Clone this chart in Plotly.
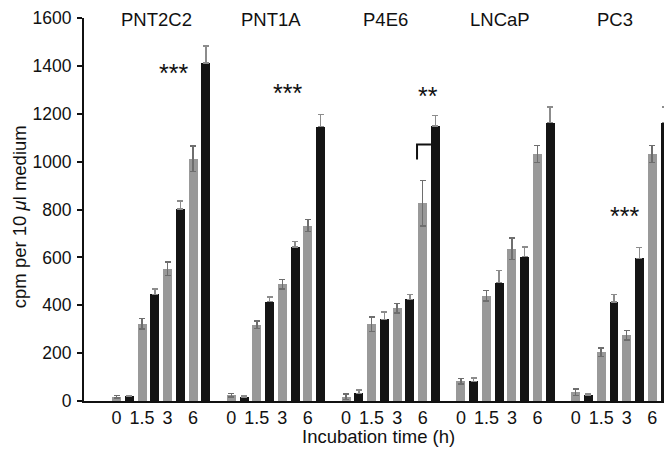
import plotly.graph_objects as go

groups = ["PNT2C2", "PNT1A", "P4E6", "LNCaP", "PC3"]
times = ["0", "1.5", "3", "6"]

grey_vals = [
    [18, 322, 552, 1012],
    [24, 318, 488, 733],
    [18, 320, 388, 827],
    [82, 439, 637, 1032],
    [36, 203, 274, 1032],
]
grey_err = [
    [6, 22, 28, 54],
    [8, 16, 20, 25],
    [12, 30, 20, 95],
    [12, 22, 45, 35],
    [14, 18, 20, 35],
]
black_vals = [
    [20, 445, 802, 1413],
    [17, 415, 644, 1146],
    [32, 341, 425, 1148],
    [82, 495, 603, 1163],
    [25, 413, 596, 1163],
]
black_err = [
    [4, 22, 34, 70],
    [5, 20, 22, 50],
    [15, 30, 20, 44],
    [15, 50, 40, 65],
    [7, 32, 45, 65],
]

# significance marks: (text, x position in slot units, y value)
sig_marks = [("***", 4.5, 1372), ("***", 13.37, 1288), ("**", 24.42, 1274), ("***", 39.86, 771)]

GROUP_SLOTS = 9
FONT = "Liberation Sans, Arial, sans-serif"

gx, gy, ge, bx, by, be = [], [], [], [], [], []
for g in range(len(groups)):
    for k in range(len(times)):
        gx.append(g * GROUP_SLOTS + 2 * k)
        gy.append(grey_vals[g][k])
        ge.append(grey_err[g][k])
        bx.append(g * GROUP_SLOTS + 2 * k + 1)
        by.append(black_vals[g][k])
        be.append(black_err[g][k])

fig = go.Figure()
fig.add_trace(go.Bar(
    x=gx, y=gy, width=0.7, marker=dict(color="#999999", line=dict(width=0)),
    error_y=dict(type="data", array=ge, symmetric=True, color="#6e6e6e", thickness=1.5, width=3),
    showlegend=False,
))
fig.add_trace(go.Bar(
    x=bx, y=by, width=0.7, marker=dict(color="#141414", line=dict(width=0)),
    error_y=dict(type="data", array=be, arrayminus=[0] * len(be), symmetric=False,
                 color="#8c8c8c", thickness=1.5, width=3),
    showlegend=False,
))

tickvals = gx
ticktext = [times[k] for g in range(len(groups)) for k in range(len(times))]

annotations = []
for g, name in enumerate(groups):
    annotations.append(dict(x=g * GROUP_SLOTS + 3.1, y=1600, xref="x", yref="y", text=name,
                            showarrow=False, xanchor="center", yanchor="middle", yshift=-1,
                            font=dict(family=FONT, size=18.5, color="#111")))
for txt, x, y in sig_marks:
    annotations.append(dict(x=x, y=y, xref="x", yref="y", text=txt, showarrow=False,
                            xanchor="center", yanchor="middle",
                            font=dict(family=FONT, size=25, color="#111")))
annotations.append(dict(x=-0.1105, y=0.48, xref="paper", yref="paper",
                        text="cpm per 10 <i>μ</i>l medium", textangle=-90, showarrow=False,
                        xanchor="center", yanchor="middle",
                        font=dict(family=FONT, size=18.5, color="#111")))
annotations.append(dict(x=0.5, y=-0.093, xref="paper", yref="paper",
                        text="Incubation time (h)", showarrow=False,
                        xanchor="center", yanchor="middle",
                        font=dict(family=FONT, size=18.5, color="#111")))

fig.update_layout(
    width=664, height=448,
    margin=dict(l=76, r=0, t=10, b=55),
    paper_bgcolor="white", plot_bgcolor="white",
    bargap=0, barmode="overlay",
    annotations=annotations,
    shapes=[dict(type="path", xref="x", yref="y",
                 path="M 23.56 1009 L 23.56 1072 L 24.65 1072",
                 line=dict(color="#111", width=2))],
    font=dict(family=FONT, size=18, color="#111"),
)
fig.update_xaxes(range=[-2.55, 43.55], showline=True, linewidth=2, linecolor="#111",
                 showgrid=False, zeroline=False, tickvals=tickvals, ticktext=ticktext,
                 ticks="", ticklabelstandoff=-1, automargin=False, ticklabeloverflow="allow",
                 tickfont=dict(family=FONT, size=18, color="#111"))
fig.update_yaxes(range=[0, 1600], showline=True, linewidth=2, linecolor="#111",
                 showgrid=False, zeroline=False, tickvals=list(range(0, 1601, 200)),
                 ticks="outside", ticklen=5, tickwidth=2, tickcolor="#111",
                 ticklabelstandoff=2, automargin=False, ticklabeloverflow="allow",
                 tickfont=dict(family=FONT, size=17.5, color="#111"))

fig.write_html("out.html")
